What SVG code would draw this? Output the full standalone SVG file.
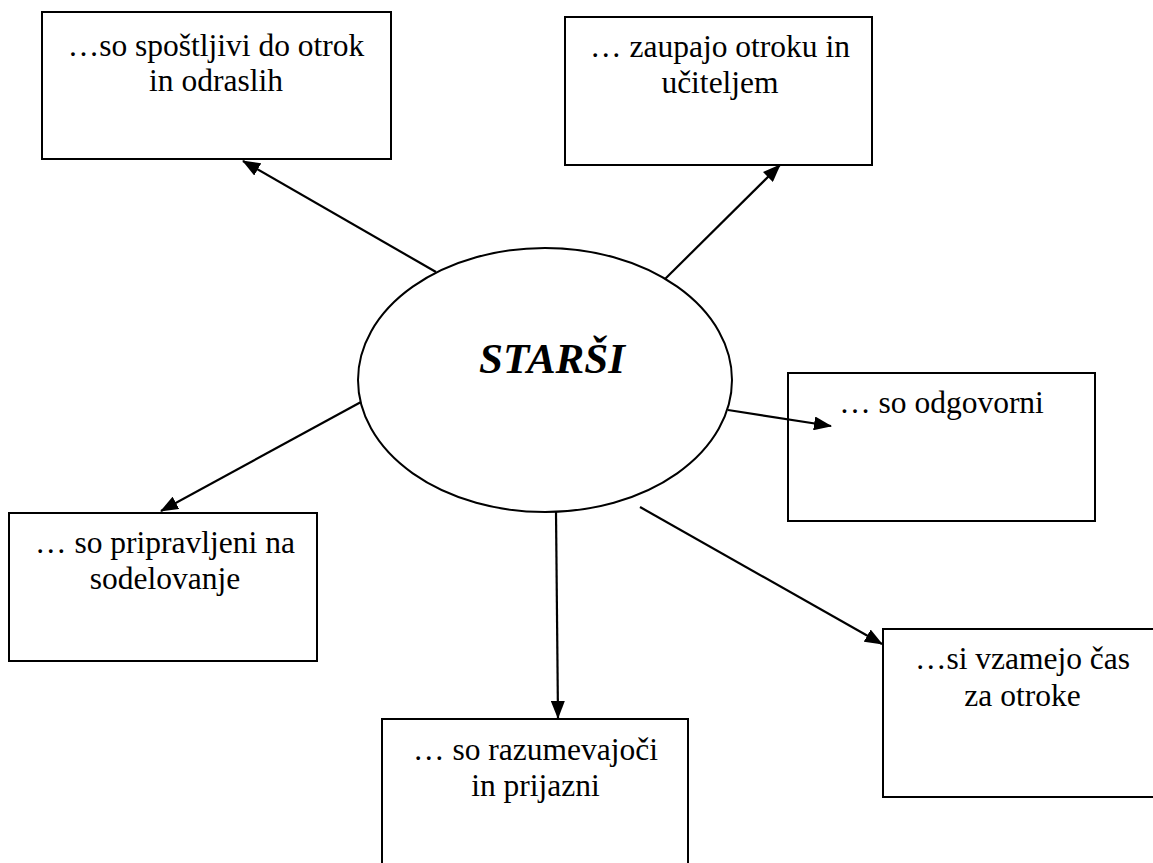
<svg xmlns="http://www.w3.org/2000/svg" width="1153" height="863" viewBox="0 0 1153 863">
  <style>
    .box { fill: none; stroke: #000000; stroke-width: 2; }
    .lbl { font-family: "Liberation Serif", "Times New Roman", serif; font-size: 31.5px; fill: #000000; text-anchor: middle; }
    .title { font-family: "Liberation Serif", "Times New Roman", serif; font-size: 43px; font-weight: bold; font-style: italic; fill: #000000; text-anchor: middle; }
    .conn { stroke: #000000; stroke-width: 2.2; fill: none; marker-end: url(#arrow); }
  </style>
  <defs>
    <marker id="arrow" markerUnits="userSpaceOnUse" markerWidth="18" markerHeight="14" refX="17" refY="7" orient="auto">
      <path d="M0,0 L18,7 L0,14 z" fill="#000000"/>
    </marker>
  </defs>
  <rect width="1153" height="863" fill="#ffffff"/>

  <g id="connectors">
    <line class="conn" x1="436" y1="272" x2="243" y2="161"/>
    <line class="conn" x1="665" y1="279" x2="780" y2="165"/>
    <line class="conn" x1="728" y1="410" x2="831" y2="426"/>
    <line class="conn" x1="361" y1="402" x2="161" y2="511"/>
    <line class="conn" x1="556" y1="512" x2="558" y2="718"/>
    <line class="conn" x1="640" y1="507" x2="882" y2="644"/>
  </g>

  <g id="starsi">
    <ellipse cx="545" cy="380" rx="187" ry="132" fill="none" stroke="#000000" stroke-width="2"/>
    <text class="title" x="552" y="373">STARŠI</text>
  </g>

  <g id="spostljivi">
    <rect class="box" x="42" y="12" width="349" height="147"/>
    <text class="lbl" x="216" y="56">…so spoštljivi do otrok</text>
    <text class="lbl" x="216" y="91">in odraslih</text>
  </g>

  <g id="zaupajo">
    <rect class="box" x="565" y="17" width="307" height="148"/>
    <text class="lbl" x="720" y="57">… zaupajo otroku in</text>
    <text class="lbl" x="720" y="93">učiteljem</text>
  </g>

  <g id="odgovorni">
    <rect class="box" x="788" y="373" width="307" height="148"/>
    <text class="lbl" x="941.5" y="413">… so odgovorni</text>
  </g>

  <g id="pripravljeni">
    <rect class="box" x="9" y="513" width="308" height="148"/>
    <text class="lbl" x="165" y="553">… so pripravljeni na</text>
    <text class="lbl" x="165" y="589">sodelovanje</text>
  </g>

  <g id="razumevajoci">
    <rect class="box" x="382" y="719" width="306" height="160"/>
    <text class="lbl" x="535.5" y="760">… so razumevajoči</text>
    <text class="lbl" x="535.5" y="796">in prijazni</text>
  </g>

  <g id="vzamejo">
    <rect class="box" x="883" y="629" width="290" height="168"/>
    <text class="lbl" x="1022.5" y="669">…si vzamejo čas</text>
    <text class="lbl" x="1022.5" y="706">za otroke</text>
  </g>
</svg>
